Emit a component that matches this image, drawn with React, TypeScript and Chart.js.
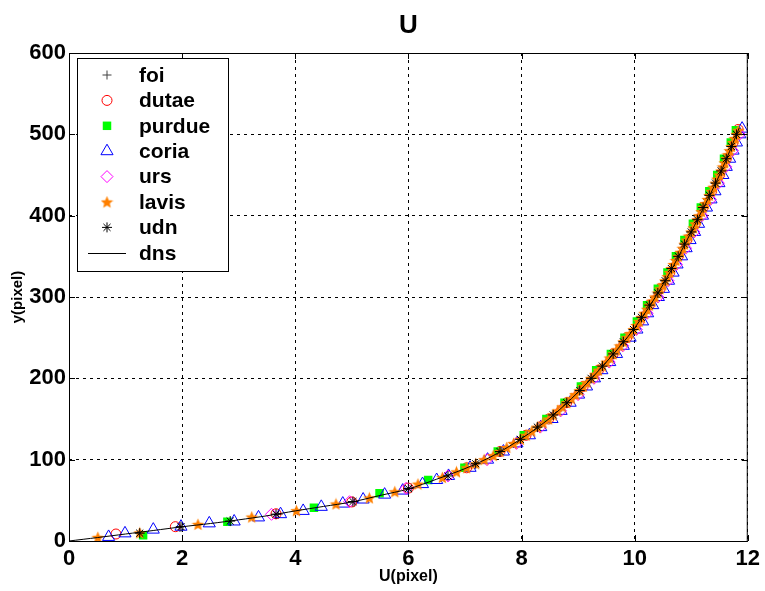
import React, { useEffect, useRef } from 'react';
import { Chart, registerables } from 'chart.js';
import { drawPoint } from 'chart.js/helpers';

Chart.register(...registerables);

type P = [number, number];

const titleText = 'U';
const xLabel = 'U(pixel)';
const yLabel = 'y(pixel)';
const xTicks = [0, 2, 4, 6, 8, 10, 12];
const yTicks = [0, 100, 200, 300, 400, 500, 600];

const foi: P[] = [
  [1.95, 17], [3.7, 33], [5.05, 48], [6.05, 65], [7.34, 100], [7.86, 120], [8.28, 140], [8.64, 160],
  [8.95, 180], [9.23, 200], [9.5, 220], [9.74, 240], [9.98, 260], [10.17, 280], [10.36, 300],
  [10.54, 320], [10.69, 340], [10.85, 360], [11.0, 380], [11.14, 400], [11.29, 420], [11.43, 440],
  [11.56, 460], [11.68, 480], [11.8, 500],
];
const dutae: P[] = [
  [0.83, 8.6], [1.88, 17.6], [3.66, 33.5], [5.0, 48], [6.0, 65], [7.03, 90], [7.62, 110], [8.08, 130],
  [8.48, 150], [8.8, 170], [9.09, 190], [9.36, 210], [9.62, 230], [9.86, 250], [10.08, 270],
  [10.26, 290], [10.45, 310], [10.62, 330], [10.77, 350], [10.92, 370], [11.07, 390], [11.21, 410],
  [11.36, 430], [11.5, 450], [11.62, 470], [11.74, 490], [11.83, 506],
];
const purdue: P[] = [
  [1.31, 7], [2.8, 23.8], [4.33, 41], [5.49, 58.6], [6.35, 75], [6.99, 90], [7.58, 110], [8.04, 130],
  [8.44, 150], [8.76, 170], [9.05, 190], [9.32, 210], [9.58, 230], [9.82, 250], [10.04, 270],
  [10.22, 290], [10.41, 310], [10.58, 330], [10.73, 350], [10.88, 370], [11.03, 390], [11.17, 410],
  [11.32, 430], [11.46, 450], [11.58, 470], [11.7, 490], [11.79, 505],
];
const coria: P[] = [
  [0.7, 5], [0.99, 9.4], [1.49, 14], [1.98, 17.6], [2.48, 21.7], [2.92, 24], [3.35, 29], [3.74, 33],
  [4.14, 37], [4.46, 42], [4.84, 46], [5.2, 51], [5.58, 57], [5.9, 62], [6.25, 70], [6.5, 75],
  [6.71, 80], [7.09, 90], [7.4, 100], [7.68, 110], [7.92, 120], [8.14, 130], [8.34, 140], [8.54, 150],
  [8.7, 160], [8.86, 170], [9.01, 180], [9.15, 190], [9.29, 200], [9.42, 210], [9.56, 220],
  [9.68, 230], [9.8, 240], [9.92, 250], [10.04, 260], [10.14, 270], [10.23, 280], [10.32, 290],
  [10.42, 300], [10.51, 310], [10.6, 320], [10.68, 330], [10.75, 340], [10.83, 350], [10.91, 360],
  [10.98, 370], [11.06, 380], [11.13, 390], [11.2, 400], [11.27, 410], [11.35, 420], [11.42, 430],
  [11.49, 440], [11.56, 450], [11.62, 460], [11.68, 470], [11.74, 480], [11.8, 490], [11.86, 500],
  [11.9, 507],
];
const urs: P[] = [
  [3.58, 32.8], [4.96, 48.3], [5.96, 64.8], [6.7, 80], [7.39, 100], [7.91, 120], [8.33, 140],
  [8.69, 160], [9.0, 180], [9.28, 200], [9.55, 220], [9.79, 240], [10.03, 260], [10.22, 280],
  [10.41, 300], [10.59, 320], [10.74, 340], [10.9, 360], [11.05, 380], [11.19, 400], [11.34, 420],
  [11.48, 440], [11.61, 460], [11.73, 480], [11.85, 500],
];
const lavis: P[] = [
  [0.51, 4.5], [1.25, 10], [2.28, 20.5], [3.23, 29.5], [4.02, 37.3], [4.72, 45.5], [5.31, 53],
  [5.76, 60.6], [6.17, 70], [6.6, 78], [6.85, 85], [7.03, 90], [7.19, 95], [7.34, 100], [7.5, 105],
  [7.62, 110], [7.74, 115], [7.86, 120], [7.98, 125], [8.08, 130], [8.18, 135], [8.28, 140],
  [8.38, 145], [8.48, 150], [8.56, 155], [8.64, 160], [8.72, 165], [8.8, 170], [8.88, 175],
  [8.95, 180], [9.03, 185], [9.09, 190], [9.16, 195], [9.23, 200], [9.3, 205], [9.36, 210],
  [9.43, 215], [9.5, 220], [9.56, 225], [9.62, 230], [9.68, 235], [9.74, 240], [9.8, 245],
  [9.86, 250], [9.92, 255], [9.98, 260], [10.03, 265], [10.08, 270], [10.12, 275], [10.17, 280],
  [10.22, 285], [10.26, 290], [10.31, 295], [10.36, 300], [10.41, 305], [10.45, 310], [10.5, 315],
  [10.54, 320], [10.58, 325], [10.62, 330], [10.65, 335], [10.69, 340], [10.73, 345], [10.77, 350],
  [10.81, 355], [10.85, 360], [10.88, 365], [10.92, 370], [10.96, 375], [11.0, 380], [11.04, 385],
  [11.07, 390], [11.11, 395], [11.14, 400], [11.18, 405], [11.21, 410], [11.25, 415], [11.29, 420],
  [11.32, 425], [11.36, 430], [11.39, 435], [11.43, 440], [11.46, 445], [11.5, 450], [11.53, 455],
  [11.56, 460], [11.59, 465], [11.62, 470], [11.65, 475], [11.68, 480], [11.71, 485], [11.74, 490],
  [11.77, 495], [11.8, 500], [11.83, 505],
];
const udn: P[] = [
  [1.25, 9.6], [1.98, 17.6], [2.85, 24.5], [3.66, 33], [5.02, 48.5], [6.0, 64.5], [6.7, 80],
  [7.19, 95], [7.62, 110], [7.98, 125], [8.28, 140], [8.56, 155], [8.8, 170], [9.03, 185], [9.23, 200],
  [9.43, 215], [9.62, 230], [9.8, 245], [9.98, 260], [10.12, 275], [10.26, 290], [10.41, 305],
  [10.54, 320], [10.65, 335], [10.77, 350], [10.88, 365], [11.0, 380], [11.11, 395], [11.21, 410],
  [11.32, 425], [11.43, 440], [11.53, 455], [11.62, 470], [11.71, 485], [11.8, 500],
];
const dns: P[] = [
  [0, 0], [0.5, 4.2], [1, 8.6], [1.5, 13], [2, 17.5], [2.5, 21.5], [3, 26], [3.5, 31], [4, 37],
  [4.5, 42.5], [5, 48], [5.5, 56], [6, 64], [6.5, 76], [7, 89], [7.5, 105], [8, 126], [8.5, 151],
  [9, 183], [9.5, 220], [10, 262], [10.5, 315], [11, 380], [11.5, 450], [11.85, 508],
];

const FONT = '"Liberation Sans", Arial, sans-serif';

function makeStar(color: string, size: number): HTMLCanvasElement {
  const c = document.createElement('canvas');
  c.width = size;
  c.height = size;
  const ctx = c.getContext('2d')!;
  const cx = size / 2;
  const cy = size / 2 + 0.6;
  const R = size / 2;
  const r = R * 0.45;
  ctx.beginPath();
  for (let i = 0; i < 10; i++) {
    const a = -Math.PI / 2 + (i * Math.PI) / 5;
    const rr = i % 2 ? r : R;
    ctx.lineTo(cx + rr * Math.cos(a), cy + rr * Math.sin(a));
  }
  ctx.closePath();
  ctx.fillStyle = color;
  ctx.fill();
  return c;
}

const toPts = (arr: P[]) => arr.map(([x, y]) => ({ x, y }));

export default function App() {
  const ref = useRef<HTMLCanvasElement>(null);

  useEffect(() => {
    const canvas = ref.current!;
    const star = makeStar('#ff8000', 13);

    const sets: any[] = [
      { label: 'foi', data: toPts(foi), pointStyle: 'cross', pointRadius: 4.5, borderColor: '#404040', backgroundColor: '#404040', borderWidth: 1, order: 7 },
      { label: 'dutae', data: toPts(dutae), pointStyle: 'circle', pointRadius: 5, borderColor: '#ff0000', backgroundColor: 'rgba(0,0,0,0)', borderWidth: 1, order: 6 },
      { label: 'purdue', data: toPts(purdue), pointStyle: 'rect', pointRadius: 6, borderColor: '#00ff00', backgroundColor: '#00ff00', borderWidth: 0, order: 5 },
      { label: 'coria', data: toPts(coria), pointStyle: 'triangle', pointRadius: 7, borderColor: '#0000ff', backgroundColor: 'rgba(0,0,0,0)', borderWidth: 1, order: 4 },
      { label: 'urs', data: toPts(urs), pointStyle: 'rectRot', pointRadius: 6, borderColor: '#ff00ff', backgroundColor: 'rgba(0,0,0,0)', borderWidth: 1, order: 3 },
      { label: 'lavis', data: toPts(lavis), pointStyle: star, pointRadius: 6, borderColor: '#ff8000', backgroundColor: '#ff8000', borderWidth: 0, order: 2 },
      { label: 'udn', data: toPts(udn), pointStyle: 'star', pointRadius: 5, borderColor: '#000000', backgroundColor: '#000000', borderWidth: 1, order: 1 },
      { label: 'dns', data: toPts(dns), pointRadius: 0, showLine: true, borderColor: '#000000', borderWidth: 1, tension: 0.3, order: 0 },
    ];
    sets.forEach((d) => { d.pointHoverRadius = d.pointRadius; });

    const frame = {
      id: 'frame',
      afterDraw(chart: any) {
        const ctx = chart.ctx as CanvasRenderingContext2D;
        const a = chart.chartArea;
        const xs = chart.scales.x;
        const ys = chart.scales.y;
        ctx.save();
        ctx.strokeStyle = '#000';
        ctx.lineWidth = 1;
        ctx.strokeRect(a.left + 0.5, a.top + 0.5, a.right - a.left - 1, a.bottom - a.top);
        ctx.beginPath();
        xTicks.forEach((v) => {
          const px = Math.round(xs.getPixelForValue(v)) + 0.5;
          ctx.moveTo(px, a.bottom); ctx.lineTo(px, a.bottom - 6);
          ctx.moveTo(px, a.top); ctx.lineTo(px, a.top + 6);
        });
        yTicks.forEach((v) => {
          const py = Math.round(ys.getPixelForValue(v)) + 0.5;
          ctx.moveTo(a.left, py); ctx.lineTo(a.left + 6, py);
          ctx.moveTo(a.right, py); ctx.lineTo(a.right - 6, py);
        });
        ctx.stroke();

        ctx.fillStyle = '#000';
        ctx.textAlign = 'center';
        ctx.textBaseline = 'middle';
        ctx.font = `bold 26px ${FONT}`;
        ctx.fillText(titleText, (a.left + a.right) / 2, 26);
        ctx.font = `bold 16px ${FONT}`;
        ctx.fillText(xLabel, (a.left + a.right) / 2, 577);
        ctx.save();
        ctx.translate(18, (a.top + a.bottom) / 2);
        ctx.rotate(-Math.PI / 2);
        ctx.font = `bold 15px ${FONT}`;
        ctx.fillText(yLabel, 0, 0);
        ctx.restore();

        const lx = a.left + 8;
        const ly = a.top + 5;
        const lw = 151;
        const lh = 213;
        ctx.fillStyle = '#fff';
        ctx.fillRect(lx, ly, lw, lh);
        ctx.strokeStyle = '#000';
        ctx.strokeRect(lx + 0.5, ly + 0.5, lw, lh);
        ctx.font = `bold 21px ${FONT}`;
        ctx.textAlign = 'left';
        ctx.textBaseline = 'middle';
        sets.forEach((d, i) => {
          const cy = ly + 17 + i * 25.4;
          const mx = lx + 30;
          ctx.save();
          if (d.label === 'dns') {
            ctx.strokeStyle = '#000';
            ctx.lineWidth = 1;
            ctx.beginPath();
            ctx.moveTo(lx + 11, Math.round(cy) + 0.5);
            ctx.lineTo(lx + 49, Math.round(cy) + 0.5);
            ctx.stroke();
          } else {
            ctx.strokeStyle = d.borderColor;
            ctx.fillStyle = d.backgroundColor;
            ctx.lineWidth = d.borderWidth || 1;
            drawPoint(ctx, { pointStyle: d.pointStyle, radius: d.pointRadius, borderWidth: d.borderWidth, rotation: 0 } as any, mx, cy);
          }
          ctx.restore();
          ctx.fillStyle = '#000';
          ctx.fillText(d.label, lx + 62, cy + 1);
        });
        ctx.restore();
      },
    };

    const gridStyle = { color: '#000', lineWidth: 1, drawTicks: false };
    const chart = new Chart(canvas, {
      type: 'scatter',
      data: { datasets: sets },
      options: {
        animation: false,
        responsive: false,
        events: [],
        layout: { padding: { left: 0, right: 17, top: 53, bottom: 0 } },
        plugins: { legend: { display: false }, tooltip: { enabled: false }, title: { display: false } },
        scales: {
          x: {
            type: 'linear', min: 0, max: 12,
            afterBuildTicks: (s: any) => { s.ticks = xTicks.map((v) => ({ value: v })); },
            afterFit: (s: any) => { s.height = 50; },
            grid: gridStyle as any,
            border: { display: false, dash: [3, 4] } as any,
            ticks: { padding: 5, color: '#000', font: { family: FONT, size: 22, weight: 'bold' }, maxRotation: 0 },
          },
          y: {
            type: 'linear', min: 0, max: 600,
            afterBuildTicks: (s: any) => { s.ticks = yTicks.map((v) => ({ value: v })); },
            afterFit: (s: any) => { s.width = 69; },
            grid: gridStyle as any,
            border: { display: false, dash: [3, 4] } as any,
            ticks: { padding: 3, color: '#000', font: { family: FONT, size: 22, weight: 'bold' } },
          },
        },
      },
      plugins: [frame],
    });
    return () => chart.destroy();
  }, []);

  return (
    <div style={{ position: 'absolute', left: 0, top: 0, width: 765, height: 591, background: '#fff' }}>
      <canvas ref={ref} width={765} height={591} style={{ display: 'block' }} />
    </div>
  );
}
